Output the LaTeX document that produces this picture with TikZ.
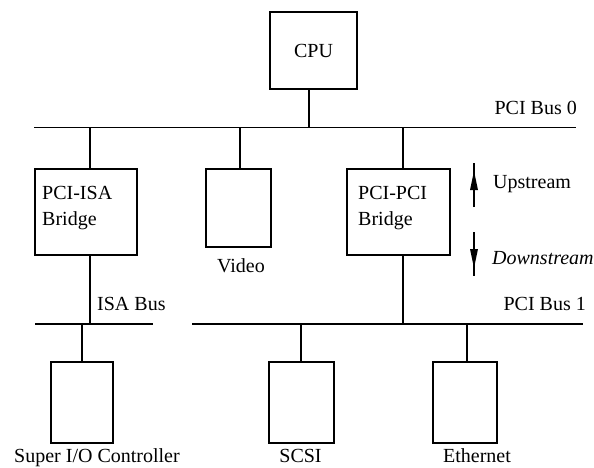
\documentclass[tikz,border=0pt]{standalone}
\usepackage{fontspec}
\setmainfont{Liberation Serif}
\begin{document}
\begin{tikzpicture}[x=1pt,y=-1pt,
  box/.style={draw, line width=1.6pt, inner sep=0pt},
  lbl/.style={font=\fontsize{20}{24}\selectfont, inner sep=0pt},
  bus/.style={line width=1.6pt},
  flow/.style={line width=1.6pt}]
\useasboundingbox (0,0) rectangle (594,468);
% boxes
\node[box, lbl, minimum width=87pt, minimum height=77pt] (cpu) at (313.5,50.5) {CPU};
\node[box, minimum width=102pt, minimum height=86pt] (isa) at (86,212) {};
\node[box, minimum width=65pt, minimum height=78pt] (video) at (238.5,208) {};
\node[box, minimum width=103pt, minimum height=86pt] (ppb) at (398.5,212) {};
\node[box, minimum width=62pt, minimum height=81pt] (sio) at (82,402.5) {};
\node[box, minimum width=65pt, minimum height=81pt] (scsi) at (301.5,402.5) {};
\node[box, minimum width=64pt, minimum height=81pt] (eth) at (465,402.5) {};
% texts
\node[lbl, anchor=west] (isat1) at (42,193) {PCI-ISA};
\node[lbl, anchor=west] (isat2) at (42,221) {Bridge};
\node[lbl, anchor=west] (ppbt1) at (358,193) {PCI-PCI};
\node[lbl, anchor=west] (ppbt2) at (358,221) {Bridge};
\node[lbl] (videot) at (241,266) {Video};
\node[lbl, anchor=base] (siot) at (97,462) {Super I/O Controller};
\node[lbl, anchor=base] (scsit) at (300.5,462) {SCSI};
\node[lbl, anchor=base] (etht) at (477,462) {Ethernet};
\node[lbl, anchor=east] (bus0t) at (577,108) {PCI Bus 0};
\node[lbl, anchor=west] (isabt) at (97,304) {ISA Bus};
\node[lbl, anchor=east] (bus1t) at (586,304) {PCI Bus 1};
\node[lbl, anchor=west] (upt) at (493,184) {Upstream};
\node[lbl, anchor=west, font=\fontsize{20}{24}\selectfont\itshape] (downt) at (492,258) {Downstream};
% buses
\coordinate (b0l) at (34,127.5);
\coordinate (b0r) at (576,127.5);
\coordinate (ibl) at (35,324);
\coordinate (ibr) at (153,324);
\coordinate (p1l) at (192,324);
\coordinate (p1r) at (583,324);
\draw[bus] (b0l) -- (b0r);
\draw[bus] (ibl) -- (ibr);
\draw[bus] (p1l) -- (p1r);
% taps
\coordinate (tcpu) at (309,127.5);
\coordinate (tisa) at (90,127.5);
\coordinate (tvid) at (240,127.5);
\coordinate (tppb) at (403,127.5);
\coordinate (tisab) at (90,324);
\coordinate (tppbb) at (403,324);
\coordinate (tsio) at (82,324);
\coordinate (tscsi) at (301,324);
\coordinate (teth) at (467,324);
\draw[bus] (cpu.south -| tcpu) -- (tcpu);
\draw[bus] (tisa) -- (isa.north -| tisa);
\draw[bus] (tvid) -- (video.north -| tvid);
\draw[bus] (tppb) -- (ppb.north -| tppb);
\draw[bus] (isa.south -| tisab) -- (tisab);
\draw[bus] (ppb.south -| tppbb) -- (tppbb);
\draw[bus] (tsio) -- (sio.north -| tsio);
\draw[bus] (tscsi) -- (scsi.north -| tscsi);
\draw[bus] (teth) -- (eth.north -| teth);
% direction arrows
\coordinate (ua) at (474,163);
\coordinate (ub) at (474,207);
\coordinate (da) at (474,232);
\coordinate (db) at (474,276);
\draw[flow] (ub) -- (ua);
\draw[flow] (da) -- (db);
\fill (474,171) -- (478,190) -- (470,190) -- cycle;
\fill (474,268) -- (478,249) -- (470,249) -- cycle;
\end{tikzpicture}
\end{document}
